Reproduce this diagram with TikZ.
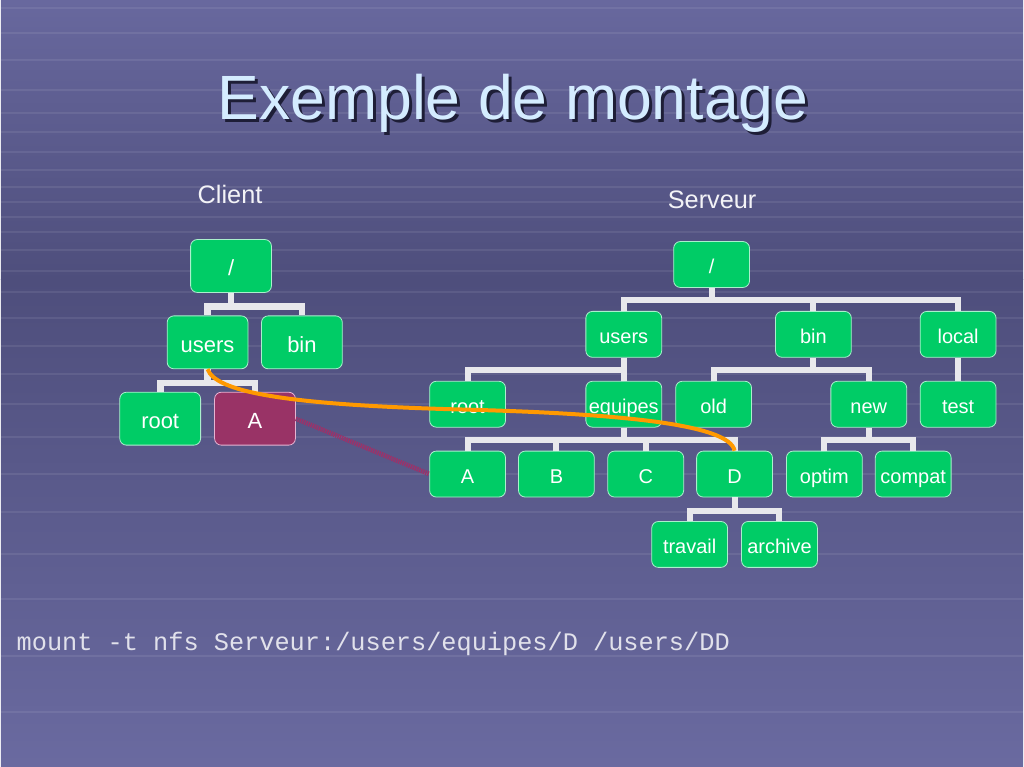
\documentclass[tikz,border=0pt]{standalone}
\usepackage{fontspec}
\setmainfont{Liberation Sans}
\newfontfamily\codefont{Liberation Mono}
\usepackage{tikz}

\definecolor{bgtop}{RGB}{104,104,158}
\definecolor{bgmid}{RGB}{78,78,124}
\definecolor{bgbot}{RGB}{106,106,160}
\definecolor{dirgreen}{RGB}{0,204,102}
\definecolor{dirline}{RGB}{170,240,205}
\definecolor{mountred}{RGB}{153,51,102}
\definecolor{mountline}{RGB}{230,180,210}
\definecolor{barwhite}{RGB}{232,232,236}
\definecolor{titleblue}{RGB}{212,236,255}
\definecolor{titleshade}{RGB}{30,30,55}
\definecolor{mountorange}{RGB}{255,153,0}
\definecolor{linkred}{RGB}{158,48,104}
\definecolor{codegray}{RGB}{225,225,235}

\tikzset{
	dirbox/.style={shape=rectangle, rounded corners=5pt, fill=dirgreen, draw=dirline, line width=0.6pt, text=white, inner sep=0pt, text depth=0pt},
	cdir/.style={dirbox, minimum width=60.75pt, minimum height=39.75pt, text height=15pt, font=\fontsize{16.5}{18}\selectfont},
	sdir/.style={dirbox, minimum width=57pt, minimum height=34.5pt, text height=13.5pt, font=\fontsize{15}{17}\selectfont},
	branch/.style={draw=barwhite, line width=4.5pt, to path={-- ++(0,#1) -| (\tikztotarget)}},
	branch/.default=12,
	cbranch/.style={branch=14, line width=5pt},
	gridline/.style={draw=white, opacity=0.08, line width=1.5pt},
	titletext/.style={anchor=base, font=\fontsize{47}{56}\selectfont},
	sidetext/.style={anchor=base, text=white!92!bgtop, font=\fontsize{19}{22}\selectfont},
	mountpath/.style={draw=mountorange, line width=3pt},
	linkline/.style={draw=linkred, line width=3.5pt, dash pattern=on 1pt off 0.7pt}
}

\begin{document}
\begin{tikzpicture}[x=0.75pt, y=-0.75pt]
	\shade[top color=bgtop, bottom color=bgmid] (0,0) rectangle (1024,280);
	\shade[top color=bgmid, bottom color=bgbot] (0,280) rectangle (1024,768);
	\foreach \y in {8,33,60,90,113,132,152,170,187,202,217,232,250,272,293,319,347,375,405,438,475,513,555,600,657,713}
		\draw[gridline] (0,\y) -- (1024,\y);
	\useasboundingbox (0,0) rectangle (1024,768);

	\node[titletext, text=titleshade] (titleshadow) at (516,123) {Exemple de montage};
	\node[titletext, text=titleblue] (title) at (513,120) {Exemple de montage};

	\node[sidetext] (client) at (229.5,204) {Client};
	\node[sidetext] (serveur) at (712.5,209) {Serveur};

	% client
	\node[cdir] (cslash) at (230.5,266.5) {/};
	\node[cdir] (cusers) at (207,343) {users};
	\node[cdir] (cbin) at (301.5,343) {bin};
	\node[cdir] (croot) at (159.5,419.5) {root};
	\node[cdir, fill=mountred, draw=mountline] (cA) at (254.5,419.5) {A};

	\path [cbranch] (cslash.south) edge (cusers.north);
	\path [cbranch] (cslash.south) edge (cbin.north);
	\path [cbranch] (cusers.south) edge (croot.north);
	\path [cbranch] (cusers.south) edge (cA.north);

	% serveur
	\node[sdir] (sslash) at (712,265) {/};
	\node[sdir] (susers) at (624,335) {users};
	\node[sdir] (sbin) at (814,335) {bin};
	\node[sdir] (slocal) at (959,335) {local};
	\node[sdir] (sroot) at (467.5,405) {root};
	\node[sdir] (sequipes) at (624,405) {equipes};
	\node[sdir] (sold) at (714,405) {old};
	\node[sdir] (snew) at (869.5,405) {new};
	\node[sdir] (stest) at (959,405) {test};
	\node[sdir] (sA) at (467.5,475) {A};
	\node[sdir] (sB) at (556.5,475) {B};
	\node[sdir] (sC) at (646,475) {C};
	\node[sdir] (sD) at (735,475) {D};
	\node[sdir] (soptim) at (825,475) {optim};
	\node[sdir] (scompat) at (914,475) {compat};
	\node[sdir] (stravail) at (690,545.5) {travail};
	\node[sdir] (sarchive) at (780,545.5) {archive};

	\path [branch] (sslash.south) edge (susers.north);
	\path [branch] (sslash.south) edge (sbin.north);
	\path [branch] (sslash.south) edge (slocal.north);
	\path [branch] (susers.south) edge (sroot.north);
	\path [branch] (susers.south) edge (sequipes.north);
	\path [branch] (sbin.south) edge (sold.north);
	\path [branch] (sbin.south) edge (snew.north);
	\path [branch] (slocal.south) edge (stest.north);
	\path [branch] (sequipes.south) edge (sA.north);
	\path [branch] (sequipes.south) edge (sB.north);
	\path [branch] (sequipes.south) edge (sC.north);
	\path [branch] (sequipes.south) edge (sD.north);
	\path [branch] (snew.south) edge (soptim.north);
	\path [branch] (snew.south) edge (scompat.north);
	\path [branch=14] (sD.south) edge (stravail.north);
	\path [branch=14] (sD.south) edge (sarchive.north);

	% montage
	\draw[linkline] (cA.east) -- (sA.west);
	\coordinate (bend) at (450,410);
	\draw[mountpath] (cusers.south) .. controls (215,392) and (280,405) .. (bend) .. controls (620,414) and (730,425) .. (sD.north);

	\node[anchor=base west, text=codegray, font=\codefont\fontsize{19}{22}\selectfont] (mount) at (11,652) {mount -t nfs Serveur:/users/equipes/D /users/DD};
\end{tikzpicture}
\end{document}
